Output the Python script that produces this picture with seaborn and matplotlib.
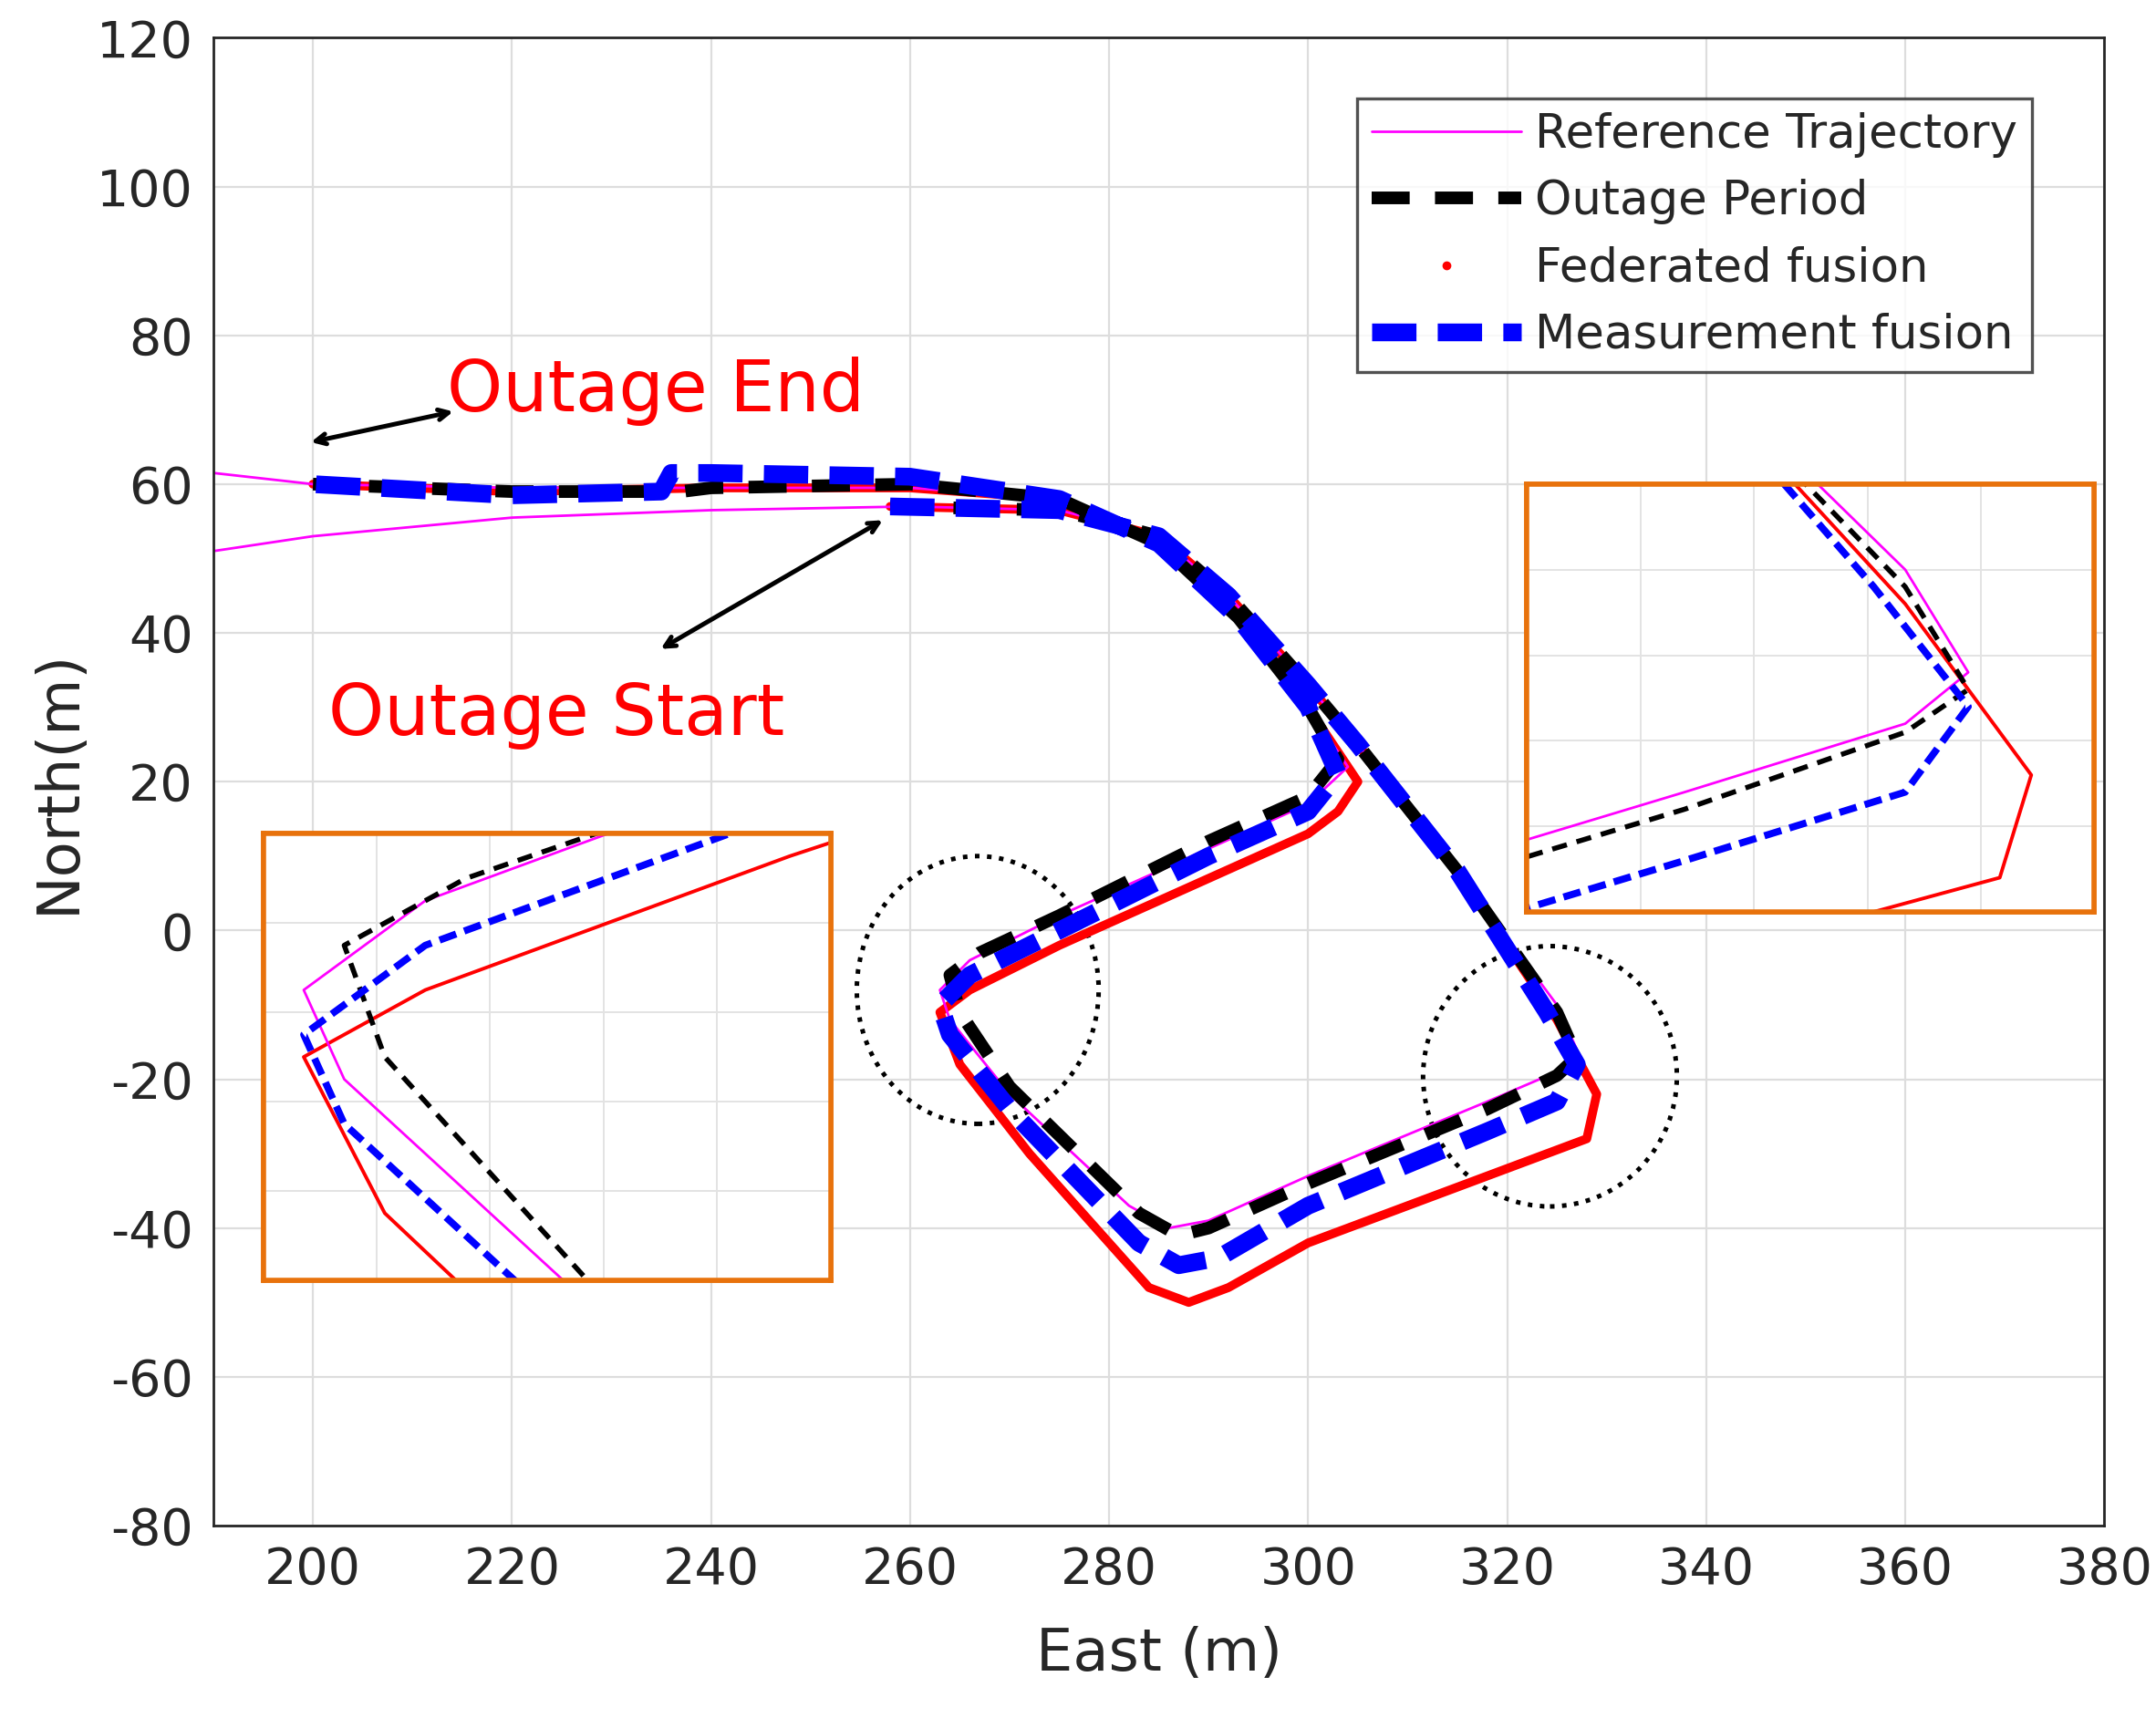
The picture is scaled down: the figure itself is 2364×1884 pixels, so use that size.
import numpy as np
import pandas as pd
import matplotlib
matplotlib.use("Agg")
import matplotlib.pyplot as plt
import seaborn as sns
from matplotlib.patches import Ellipse, Rectangle
from matplotlib.lines import Line2D

# Reference trajectory
ref_x = [190,200,220,240,260,275,285,292,300,305,315,325,327,325,318,300,290,286,282,270,264,263,266,275,290,300,304,300,293,285,275,260,240,220,200,190]
ref_y = [51,53,55.5,56.5,57,56.5,53,45,33,25,8,-10,-16,-19,-23,-33,-39,-40,-37,-22,-12,-8,-4,2,11,17,22,30,42,52,58,59.5,59.5,59.5,60,61.5]
# Outage period (black dashed)
out_x = [258,275,285,292,300,305,315,325,327,325,318,300,290,287,283,270,265,264,267,275,290,300,303,300,293,285,275,260,240,237,220,200]
out_y = [57,56.5,53,45,33,25,8,-11,-17,-19.5,-24,-34,-40,-41,-38,-21,-11,-6,-3,2,12,18,23,30,42,52,58,60,59.5,59,59,60]
# Federated fusion (red)
fed_x = [258,275,285,292,300,305,315,325,329,328,320,300,292,288,284,272,265,263,266,275,290,300,303,305,300,293,285,275,260,240,220,200]
fed_y = [57,56.5,53,45,33,25,8,-12,-22,-28,-32,-42,-48,-50,-48,-30,-18,-11,-8,-2,7,13,16,20,30,42,52,58,59.5,59.5,59,60]
# Measurement fusion (blue)
mea_x = [258,275,285,292,300,305,315,324,327,325,318,300,291,287,283,270,264,263,266,275,290,300,303,300,293,285,275,260,240,236,235,220,200]
mea_y = [57,56.5,53,45,33,25,8,-11,-18,-23,-27,-37,-44,-45,-42,-24,-14,-10,-6,0,10,16,21,30,42,52,58,61,61.5,61.5,59,58.5,60]

legend_labels = ["Reference Trajectory", "Outage Period", "Federated fusion", "Measurement fusion"]

sns.set_style("white")
plt.rcParams['font.family'] = ['DejaVu Sans']
plt.rcParams['axes.unicode_minus'] = False

fig = plt.figure(figsize=(11.82, 9.42), dpi=200)
ax = fig.add_axes([0.099, 0.112, 0.877, 0.866])

def draw(a, lwscale=1.0):
    sns.lineplot(x=fed_x, y=fed_y, sort=False, ax=a, color='red', lw=3.5*lwscale, estimator=None)
    sns.lineplot(x=ref_x, y=ref_y, sort=False, ax=a, color='magenta', lw=1.0, estimator=None)
    sns.lineplot(x=out_x, y=out_y, sort=False, ax=a, color='black', lw=5*lwscale, dashes=False, linestyle=(0, (3, 2)), estimator=None)
    sns.lineplot(x=mea_x, y=mea_y, sort=False, ax=a, color='blue', lw=7*lwscale, linestyle=(0, (2.5, 1.2)), estimator=None)

draw(ax)
ax.set_xlim(190, 380)
ax.set_ylim(-80, 120)
ax.set_xticks(range(200, 381, 20))
ax.set_yticks(range(-80, 121, 20))
ax.grid(True, color='#dddddd', lw=0.8)
ax.tick_params(labelsize=20, colors='#262626', direction='in', length=4, pad=8)
for s in ax.spines.values():
    s.set_color('#262626'); s.set_linewidth(1.0)
ax.set_xlabel("East (m)", fontsize=23, color='#262626', labelpad=12)
ax.set_ylabel("North(m)", fontsize=23, color='#262626', labelpad=4)

# circles
ax.add_patch(Ellipse((266.8, -8), 24.3, 36, fill=False, ls=':', lw=1.8, color='black'))
ax.add_patch(Ellipse((324.3, -19.6), 25.5, 35, fill=False, ls=':', lw=1.8, color='black'))

# annotations
ax.text(213.5, 72.5, "Outage End", color='red', fontsize=28, va='center')
ax.text(201.5, 29, "Outage Start", color='red', fontsize=28, va='center')
ax.annotate("", xy=(199.3, 65.5), xytext=(214.6, 69.9), arrowprops=dict(arrowstyle='<->', lw=1.8, color='black'))
ax.annotate("", xy=(257.7, 55.5), xytext=(234.5, 37.5), arrowprops=dict(arrowstyle='<->', lw=1.8, color='black'))

# legend
handles = [Line2D([], [], color='magenta', lw=1.0),
           Line2D([], [], color='black', lw=5, linestyle=(0, (3, 2))),
           Line2D([], [], color='red', lw=0, marker='.', markersize=5),
           Line2D([], [], color='blue', lw=7, linestyle=(0, (2.5, 1.2)))]
leg = ax.legend(handles, legend_labels, loc='upper right', bbox_to_anchor=(0.974, 0.975), fontsize=18.5,
                frameon=True, fancybox=False, edgecolor='#262626', handlelength=3.2, labelspacing=0.45,
                borderpad=0.3, handletextpad=0.3)
leg.get_frame().set_linewidth(1.2)

# insets
def inset(rect_data, xlim, ylim):
    x0, y0, x1, y1 = rect_data
    ax.add_patch(Rectangle((x0, y0), x1 - x0, y1 - y0, fill=True, facecolor='white', edgecolor='#e8720c', lw=2, zorder=5))
    fx0, fy0 = ax.transAxes.inverted().transform(ax.transData.transform((x0, y0)))
    fx1, fy1 = ax.transAxes.inverted().transform(ax.transData.transform((x1, y1)))
    ia = ax.inset_axes([fx0, fy0, fx1 - fx0, fy1 - fy0], zorder=6)
    draw(ia, 0.4)
    ia.set_xlim(*xlim); ia.set_ylim(*ylim)
    ia.set_xticks(np.linspace(xlim[0], xlim[1], 6)[1:-1]); ia.set_yticks(np.linspace(ylim[0], ylim[1], 6)[1:-1])
    ia.set_xticklabels([]); ia.set_yticklabels([])
    ia.tick_params(length=0)
    ia.grid(True, color='#e3e3e3', lw=0.7)
    for s in ia.spines.values():
        s.set_color('#e8720c'); s.set_linewidth(2)

inset((195, -47, 252, 13), (262, 276), (-21, -1))
inset((322, 2.5, 379, 60), (313, 331), (-30, -5))

fig.savefig("out.png", dpi=200)
